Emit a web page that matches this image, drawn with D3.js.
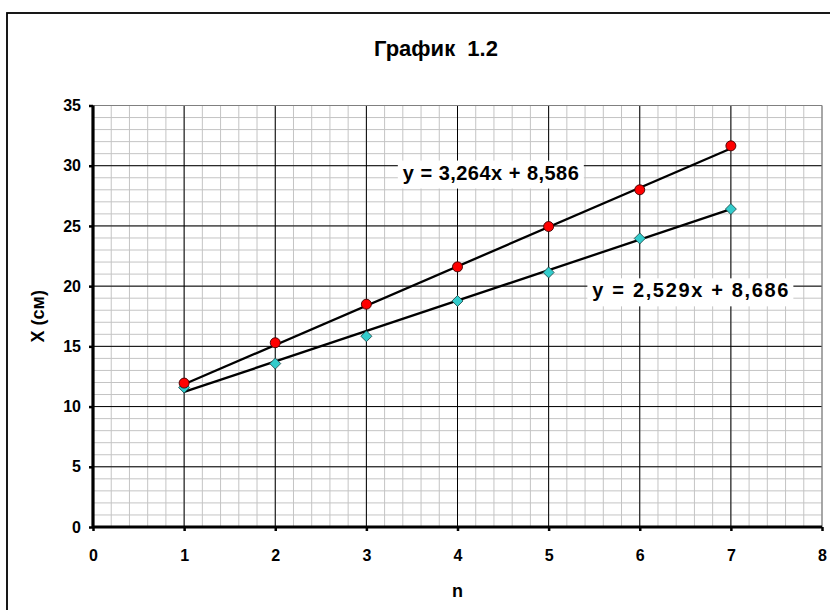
<!DOCTYPE html>
<html>
<head>
<meta charset="utf-8">
<script src="https://cdn.jsdelivr.net/npm/d3@7"></script>
<style>
  html, body { margin: 0; padding: 0; background: #fff; }
  svg { display: block; font-family: "Liberation Sans", Arial, sans-serif; }
</style>
</head>
<body>
<svg id="chart" width="830" height="610"></svg>
<script>
// Measured displacement X (cm) for each run n
const nValues = [1, 2, 3, 4, 5, 6, 7];
const seriesA = [11.95, 15.3, 18.5, 21.6, 24.95, 28.0, 31.65];   // red circles
const seriesB = [11.58, 13.57, 15.84, 18.77, 21.14, 23.96, 26.4]; // turquoise diamonds

// Linear trend lines (slope, intercept) and the text shown for each
const trendA = { slope: 3.264, intercept: 8.586, label: "y = 3,264x + 8,586", lx: 3.40, ly: 28.85, w: 176 };
const trendB = { slope: 2.529, intercept: 8.686, label: "y = 2,529x + 8,686", lx: 5.48, ly: 19.07, w: 196 };

const xTicks = [0, 1, 2, 3, 4, 5, 6, 7, 8];
const yTicks = [0, 5, 10, 15, 20, 25, 30, 35];

const titleText = "График\u00a0 1.2";
const xTitle = "n";
const yTitle = "X (см)";

const svg = d3.select("#chart");

// Chart frame
svg.append("rect")
  .attr("x", 7).attr("y", 13)
  .attr("width", 840).attr("height", 620)
  .attr("fill", "#fff").attr("stroke", "#000").attr("stroke-width", 1.8);

const x = d3.scaleLinear().domain([0, 8]).range([93, 822]);
const y = d3.scaleLinear().domain([0, 35]).range([527, 105.5]);

const grid = svg.append("g");

// Minor grid
d3.range(0, 8.0001, 0.2).forEach(v => {
  grid.append("line")
    .attr("x1", x(v)).attr("x2", x(v))
    .attr("y1", y(0)).attr("y2", y(35))
    .attr("stroke", "#c4c4c4").attr("stroke-width", 1);
});
d3.range(0, 35.0001, 1).forEach(v => {
  grid.append("line")
    .attr("x1", x(0)).attr("x2", x(8))
    .attr("y1", y(v)).attr("y2", y(v))
    .attr("stroke", "#c4c4c4").attr("stroke-width", 1);
});

// Major grid
xTicks.filter(v => v > 0 && v < 8).forEach(v => {
  grid.append("line")
    .attr("x1", x(v)).attr("x2", x(v))
    .attr("y1", y(0)).attr("y2", y(35))
    .attr("stroke", "#000").attr("stroke-width", 1);
});
yTicks.filter(v => v > 0 && v < 35).forEach(v => {
  grid.append("line")
    .attr("x1", x(0)).attr("x2", x(8))
    .attr("y1", y(v)).attr("y2", y(v))
    .attr("stroke", "#000").attr("stroke-width", 1);
});

// Plot area edges (top and right)
grid.append("line").attr("x1", x(0)).attr("x2", x(8)).attr("y1", y(35)).attr("y2", y(35))
  .attr("stroke", "#808080").attr("stroke-width", 1.2);
grid.append("line").attr("x1", x(8)).attr("x2", x(8)).attr("y1", y(0)).attr("y2", y(35))
  .attr("stroke", "#808080").attr("stroke-width", 1.2);

// Axes
const xAxis = d3.axisBottom(x).tickValues(xTicks).tickSize(4).tickPadding(19).tickFormat(d3.format("d"));
const yAxis = d3.axisLeft(y).tickValues(yTicks).tickSize(4).tickPadding(8).tickFormat(d3.format("d"));

const gx = svg.append("g").attr("transform", `translate(0,${y(0)})`).call(xAxis);
const gy = svg.append("g").attr("transform", `translate(${x(0)},0)`).call(yAxis);

[gx, gy].forEach(g => {
  g.attr("font-size", null).attr("font-family", null);
  g.select(".domain").attr("stroke", "#000").attr("stroke-width", 3.2);
  g.selectAll(".tick line").attr("stroke", "#000").attr("stroke-width", 2.5);
  g.selectAll(".tick text")
    .attr("fill", "#000")
    .style("font-family", "'Liberation Sans', Arial, sans-serif")
    .style("font-size", "16px")
    .style("font-weight", "bold");
});
gx.select(".domain").attr("d", `M${x(0)},0H${x(8)}`);
gy.select(".domain").attr("d", `M0,${y(0)}V${y(35)}`);

// Trend lines
[trendA, trendB].forEach(t => {
  svg.append("line")
    .attr("x1", x(1)).attr("y1", y(t.slope * 1 + t.intercept))
    .attr("x2", x(7)).attr("y2", y(t.slope * 7 + t.intercept))
    .attr("stroke", "#000").attr("stroke-width", 2.3);
});

// Markers
svg.append("g").selectAll("path")
  .data(nValues.map((n, i) => [n, seriesB[i]]))
  .join("path")
  .attr("transform", d => `translate(${x(d[0])},${y(d[1])})`)
  .attr("d", "M0,-5.5L5.5,0L0,5.5L-5.5,0Z")
  .attr("fill", "#33CCCC").attr("stroke", "#1a4040").attr("stroke-width", 0.8);

svg.append("g").selectAll("circle")
  .data(nValues.map((n, i) => [n, seriesA[i]]))
  .join("circle")
  .attr("cx", d => x(d[0])).attr("cy", d => y(d[1]))
  .attr("r", 5)
  .attr("fill", "#FF0000").attr("stroke", "#400000").attr("stroke-width", 0.9);

// Equation labels
[trendA, trendB].forEach(t => {
  const tx = x(t.lx), ty = y(t.ly);
  svg.append("rect")
    .attr("x", tx - 5).attr("y", ty - 19)
    .attr("width", t.w + 10).attr("height", 28)
    .attr("fill", "#fff");
  svg.append("text")
    .attr("x", tx).attr("y", ty)
    .attr("textLength", t.w).attr("lengthAdjust", "spacing")
    .style("font-size", "20px").style("font-weight", "bold")
    .text(t.label);
});

// Titles
svg.append("text")
  .attr("x", 436).attr("y", 56)
  .attr("text-anchor", "middle")
  .style("font-size", "22px").style("font-weight", "bold")
  .text(titleText);

svg.append("text")
  .attr("x", x(4)).attr("y", 597)
  .attr("text-anchor", "middle")
  .style("font-size", "18px").style("font-weight", "bold")
  .text(xTitle);

svg.append("text")
  .attr("transform", `translate(44,${(y(0) + y(35)) / 2}) rotate(-90)`)
  .attr("text-anchor", "middle")
  .style("font-size", "18px").style("font-weight", "bold")
  .text(yTitle);
</script>
</body>
</html>
